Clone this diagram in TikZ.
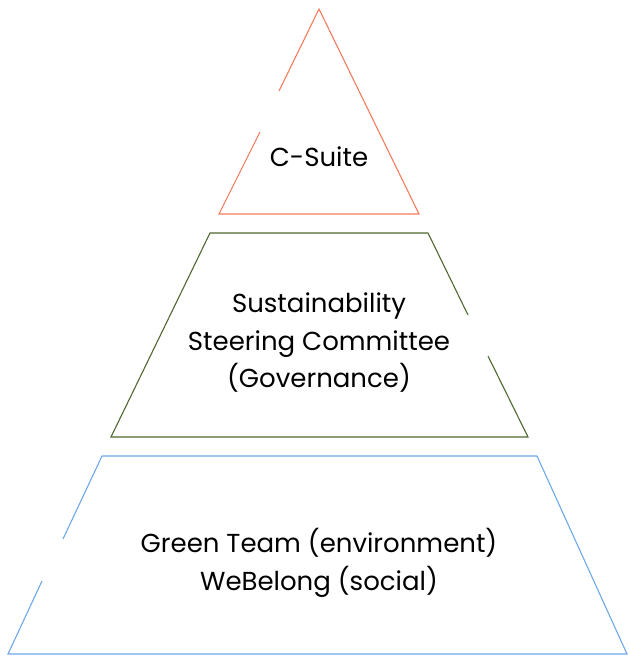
\documentclass[tikz,border=0pt]{standalone}
\usepackage{fontspec}
\setmainfont{Poppins}
\begin{document}
\begin{tikzpicture}[x=1pt,y=-1pt,
  tiertext/.style={align=center,font=\fontsize{26}{37.5}\selectfont,text=black,inner sep=0pt},
  topedge/.style={draw=topcol,line width=1.1pt},
  midedge/.style={draw=midcol,line width=1.1pt},
  baseedge/.style={draw=basecol,line width=1.1pt}]
\definecolor{topcol}{HTML}{F47B5E}
\definecolor{midcol}{HTML}{4F6830}
\definecolor{basecol}{HTML}{6FA8E6}
\useasboundingbox (0,0) rectangle (629,656);

% top tier: triangle, left side broken behind the label area
\coordinate (tA) at (319,9);
\coordinate (tL) at (219,214);
\coordinate (tR) at (419,214);
\coordinate (tG1) at (279,91);
\coordinate (tG2) at (260,132);
\draw[topedge] (tG1) -- (tA) -- (tR) -- (tL) -- (tG2);
\node[tiertext] (csuite) at (319,157) {C-Suite};

% middle tier: trapezoid, right side broken
\coordinate (mTL) at (210,233);
\coordinate (mTR) at (428,233);
\coordinate (mBR) at (528,437);
\coordinate (mBL) at (111,437);
\coordinate (mG1) at (468,315);
\coordinate (mG2) at (488,356);
\draw[midedge] (mG1) -- (mTR) -- (mTL) -- (mBL) -- (mBR) -- (mG2);
\node[tiertext] (steering) at (319,343) {Sustainability\\Steering Committee\\(Governance)};

% base tier: trapezoid, left side broken
\coordinate (bTL) at (102,456);
\coordinate (bTR) at (537,456);
\coordinate (bBR) at (627,654);
\coordinate (bBL) at (8,654);
\coordinate (bG1) at (63,539);
\coordinate (bG2) at (42,581);
\draw[baseedge] (bG1) -- (bTL) -- (bTR) -- (bBR) -- (bBL) -- (bG2);
\node[tiertext] (groups) at (319,563) {Green Team (environment)\\WeBelong (social)};
\end{tikzpicture}
\end{document}
